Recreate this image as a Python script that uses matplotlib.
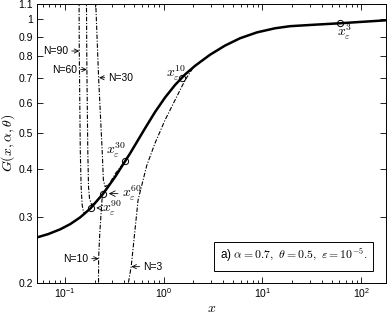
import matplotlib
matplotlib.use("Agg")
import matplotlib.pyplot as plt
from matplotlib.ticker import NullLocator, LogLocator

plt.rcParams["font.family"] = ["Liberation Sans", "DejaVu Sans"]
plt.rcParams["mathtext.fontset"] = "cm"

# exact curve G(x, alpha, theta)
g_x = [0.0515, 0.0681, 0.0901, 0.1136, 0.1434, 0.1810, 0.2448, 0.3236, 0.4587, 0.6503,
       0.8205, 1.0356, 1.3066, 1.6489, 2.0806, 2.949, 4.180, 5.925, 8.799, 13.37,
       18.96, 33.91, 60.66, 103.6, 176.8]
g_y = [0.2638, 0.2696, 0.2776, 0.2865, 0.2986, 0.3149, 0.3451, 0.3823, 0.4414, 0.5145,
       0.5682, 0.6207, 0.6699, 0.7143, 0.7529, 0.8054, 0.8517, 0.8906, 0.9232, 0.9465,
       0.9587, 0.9676, 0.9759, 0.9849, 0.9938]

# asymptotic approximations of order N
n90_x = [0.1395, 0.1403, 0.1436, 0.1465, 0.150, 0.155, 0.163, 0.1831, 0.21, 0.2448]
n90_y = [1.2, 0.824, 0.45, 0.36, 0.322, 0.308, 0.307, 0.3163, 0.3294, 0.3451]
n60_x = [0.1655, 0.1675, 0.171, 0.174, 0.178, 0.187, 0.205, 0.2448, 0.30]
n60_y = [1.2, 0.736, 0.45, 0.36, 0.335, 0.322, 0.328, 0.3451, 0.372]
n30_x = [0.204, 0.206, 0.22, 0.239, 0.246, 0.256, 0.28, 0.33, 0.4084, 0.5]
n30_y = [1.2, 1.1, 0.70, 0.45, 0.375, 0.36, 0.365, 0.392, 0.4207, 0.4584]
n10_x = [0.2193, 0.2197, 0.220, 0.226, 0.232, 0.238, 0.2448, 0.27, 0.32]
n10_y = [0.19, 0.2, 0.232, 0.27, 0.30, 0.332, 0.348, 0.3585, 0.3806]
n3_x = [0.435, 0.44, 0.47, 0.552, 0.62, 0.676, 0.82, 1.035, 1.306, 1.65, 2.0, 2.6]
n3_y = [0.19, 0.2, 0.221, 0.332, 0.375, 0.41, 0.47, 0.541, 0.611, 0.69, 0.746, 0.786]

# x_eps^N points
eps_n = [90, 60, 30, 10, 3]
eps_x = [0.1831, 0.2448, 0.4084, 1.538, 60.66]
eps_y = [0.3163, 0.3451, 0.4207, 0.7006, 0.9759]

xticks = [0.1, 1, 10, 100]
xticklabels = [r"$\mathregular{10^{-1}}$", r"$\mathregular{10^{0}}$",
               r"$\mathregular{10^{1}}$", r"$\mathregular{10^{2}}$"]
yticks = [0.2, 0.3, 0.4, 0.5, 0.6, 0.7, 0.8, 0.9, 1.0, 1.1]
yticklabels = ["0.2", "0.3", "0.4", "0.5", "0.6", "0.7", "0.8", "0.9", "1", "1.1"]

fig = plt.figure(figsize=(3.9, 3.16), dpi=100)
ax = fig.add_axes([0.094, 0.1044, 0.896, 0.884])
ax.set_xscale("log")
ax.set_yscale("log")

dd = (0, (4, 1.5, 1, 1.5))
for xs, ys in [(n90_x, n90_y), (n60_x, n60_y), (n30_x, n30_y), (n10_x, n10_y), (n3_x, n3_y)]:
    ax.plot(xs, ys, color="black", lw=0.8, ls=dd)
ax.plot(g_x, g_y, color="black", lw=1.8, solid_joinstyle="round")
ax.plot(eps_x, eps_y, ls="none", marker="o", ms=4.5, mfc="none", mec="black", mew=0.7)

ax.set_xlim(0.052, 178)
ax.set_ylim(0.2, 1.1)
ax.set_xticks(xticks)
ax.set_xticklabels(xticklabels)
ax.xaxis.set_minor_locator(LogLocator(base=10, subs=range(2, 10)))
ax.set_yticks(yticks)
ax.set_yticklabels(yticklabels)
ax.yaxis.set_minor_locator(NullLocator())
ax.tick_params(which="both", direction="in", top=True, right=True, labelsize=7.5, pad=2.5)
ax.tick_params(which="major", length=4, width=0.6)
ax.tick_params(which="minor", length=2, width=0.6)
for sp in ax.spines.values():
    sp.set_linewidth(0.7)

ax.set_xlabel(r"$x$", fontsize=10, labelpad=0.5)
ax.set_ylabel(r"$G(x,\alpha,\theta)$", fontsize=10, labelpad=1)

# x_eps labels
lab = {n: r"$x_\varepsilon^{%d}$" % n for n in eps_n}
ax.text(68, 0.924, lab[3], fontsize=10, ha="center", va="center")
ax.text(1.337, 0.719, lab[10], fontsize=10, ha="center", va="center")
ax.text(0.331, 0.450, lab[30], fontsize=10, ha="center", va="center")
arr = dict(arrowstyle="->", lw=0.6, color="black", shrinkA=1, shrinkB=4)
ax.annotate(lab[60], xy=(eps_x[1], eps_y[1]), xytext=(0.381, 0.345),
            fontsize=10, ha="left", va="center", arrowprops=arr)
ax.annotate(lab[90], xy=(eps_x[0], eps_y[0]), xytext=(0.239, 0.316),
            fontsize=10, ha="left", va="center", arrowprops=arr)

# N labels
arr2 = dict(arrowstyle="->", lw=0.6, color="black", shrinkA=0.5, shrinkB=0)
ax.annotate("N=90", xy=(0.1403, 0.824), xytext=(0.1085, 0.824), fontsize=7.5,
            ha="right", va="center", arrowprops=arr2)
ax.annotate("N=60", xy=(0.1675, 0.736), xytext=(0.1337, 0.736), fontsize=7.5,
            ha="right", va="center", arrowprops=arr2)
ax.annotate("N=30", xy=(0.2225, 0.70), xytext=(0.275, 0.70), fontsize=7.5,
            ha="left", va="center", arrowprops=arr2)
ax.annotate("N=10", xy=(0.2205, 0.232), xytext=(0.1727, 0.232), fontsize=7.5,
            ha="right", va="center", arrowprops=arr2)
ax.annotate("N=3", xy=(0.472, 0.221), xytext=(0.62, 0.221), fontsize=7.5,
            ha="left", va="center", arrowprops=arr2)

ax.text(0.735, 0.096, r"a) $\alpha=0.7,\ \theta=0.5,\ \varepsilon=10^{-5}$.",
        transform=ax.transAxes, fontsize=8.5, ha="center", va="center",
        bbox=dict(boxstyle="square,pad=0.45", fc="white", ec="black", lw=0.7))

fig.savefig("out.png", dpi=100)
